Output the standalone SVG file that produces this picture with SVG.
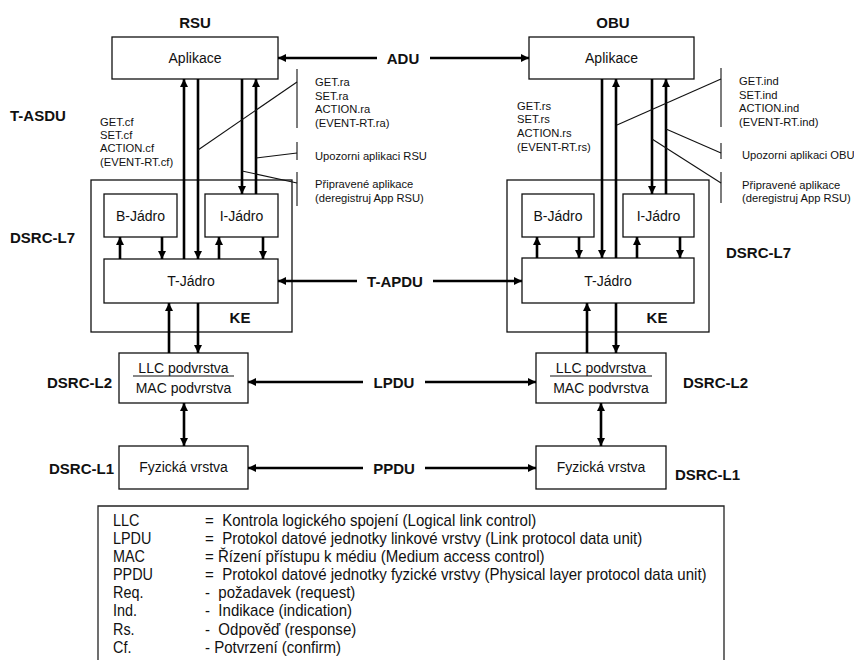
<svg xmlns="http://www.w3.org/2000/svg" width="854" height="660" viewBox="0 0 854 660">
<defs>
<marker id="ah" viewBox="0 0 10 10" refX="10" refY="5" markerWidth="9" markerHeight="8" markerUnits="userSpaceOnUse" orient="auto-start-reverse"><path d="M0,0 L10,5 L0,10 z" fill="#000"/></marker>
<style>
.box{fill:#fff;stroke:#111;stroke-width:1.3}
.lbl{font-family:"Liberation Sans",Arial,sans-serif;font-size:14px;fill:#111;text-anchor:middle;dominant-baseline:central}
.bold{font-family:"Liberation Sans",Arial,sans-serif;font-size:15px;font-weight:bold;fill:#111;dominant-baseline:central}
.sm{font-family:"Liberation Sans",Arial,sans-serif;font-size:11.2px;fill:#111}
.lg{font-family:"Liberation Sans",Arial,sans-serif;font-size:16px;fill:#111}
.thick{stroke:#000;stroke-width:2.6;fill:none}
.ar{marker-end:url(#ah)}
.thin{stroke:#111;stroke-width:1.1;fill:none}
</style>
</defs>
<rect width="854" height="660" fill="#fff"/>

<!-- titles and side labels -->
<text class="bold" x="195" y="22" text-anchor="middle">RSU</text>
<text class="bold" x="613" y="22" text-anchor="middle">OBU</text>
<text class="bold" x="10" y="115">T-ASDU</text>
<text class="bold" x="10" y="237">DSRC-L7</text>
<text class="bold" x="726" y="252">DSRC-L7</text>
<text class="bold" x="47" y="382">DSRC-L2</text>
<text class="bold" x="49" y="468">DSRC-L1</text>
<text class="bold" x="683" y="382">DSRC-L2</text>
<text class="bold" x="675" y="474">DSRC-L1</text>

<!-- RSU nodes -->
<g id="rsu-aplikace"><rect class="box" x="112" y="37" width="166" height="42"/><text class="lbl" x="195" y="58">Aplikace</text></g>
<g id="rsu-ke"><rect class="box" x="91" y="180" width="201" height="152"/><text class="bold" x="240" y="317" text-anchor="middle">KE</text></g>
<g id="rsu-bjadro"><rect class="box" x="104" y="194" width="73" height="43"/><text class="lbl" x="140.5" y="216">B-Jádro</text></g>
<g id="rsu-ijadro"><rect class="box" x="205" y="194" width="73" height="43"/><text class="lbl" x="241.5" y="216">I-Jádro</text></g>
<g id="rsu-tjadro"><rect class="box" x="104" y="259" width="174" height="44"/><text class="lbl" x="191" y="281">T-Jádro</text></g>
<g id="rsu-llc"><rect class="box" x="119" y="353" width="129" height="50"/><text class="lbl" x="183.5" y="368">LLC podvrstva</text><line x1="133" y1="376" x2="234" y2="376" stroke="#111" stroke-width="1.2"/><text class="lbl" x="183.5" y="388">MAC podvrstva</text></g>
<g id="rsu-fyz"><rect class="box" x="119" y="446" width="129" height="43"/><text class="lbl" x="183.5" y="467">Fyzická vrstva</text></g>

<!-- OBU nodes -->
<g id="obu-aplikace"><rect class="box" x="529" y="37" width="165" height="42"/><text class="lbl" x="611.5" y="58">Aplikace</text></g>
<g id="obu-ke"><rect class="box" x="507" y="180" width="202" height="152"/><text class="bold" x="657" y="317" text-anchor="middle">KE</text></g>
<g id="obu-bjadro"><rect class="box" x="522" y="194" width="72" height="43"/><text class="lbl" x="558" y="216">B-Jádro</text></g>
<g id="obu-ijadro"><rect class="box" x="623" y="194" width="71" height="43"/><text class="lbl" x="658.5" y="216">I-Jádro</text></g>
<g id="obu-tjadro"><rect class="box" x="522" y="258" width="172" height="45"/><text class="lbl" x="608" y="281">T-Jádro</text></g>
<g id="obu-llc"><rect class="box" x="536" y="353" width="130" height="50"/><text class="lbl" x="601" y="368">LLC podvrstva</text><line x1="550" y1="376" x2="652" y2="376" stroke="#111" stroke-width="1.2"/><text class="lbl" x="601" y="388">MAC podvrstva</text></g>
<g id="obu-fyz"><rect class="box" x="536" y="446" width="130" height="43"/><text class="lbl" x="601" y="467">Fyzická vrstva</text></g>

<!-- connectors -->
<g id="connectors">
<line class="thick ar" x1="377" y1="58" x2="278" y2="58"/>
<line class="thick ar" x1="430" y1="58" x2="529" y2="58"/>
<line class="thick ar" x1="357" y1="281" x2="278" y2="281"/>
<line class="thick ar" x1="433" y1="281" x2="522" y2="281"/>
<line class="thick ar" x1="363" y1="382" x2="248" y2="382"/>
<line class="thick ar" x1="425" y1="382" x2="536" y2="382"/>
<line class="thick ar" x1="363" y1="468" x2="248" y2="468"/>
<line class="thick ar" x1="425" y1="468" x2="536" y2="468"/>
<line class="thick ar" x1="184" y1="259" x2="184" y2="79"/>
<line class="thick ar" x1="198" y1="79" x2="198" y2="259"/>
<line class="thick ar" x1="242" y1="79" x2="242" y2="194"/>
<line class="thick ar" x1="256" y1="194" x2="256" y2="79"/>
<line class="thick ar" x1="120" y1="259" x2="120" y2="237"/>
<line class="thick ar" x1="162" y1="237" x2="162" y2="259"/>
<line class="thick ar" x1="219" y1="259" x2="219" y2="237"/>
<line class="thick ar" x1="263" y1="237" x2="263" y2="259"/>
<line class="thick ar" x1="169" y1="353" x2="169" y2="303"/>
<line class="thick ar" x1="198" y1="303" x2="198" y2="353"/>
<line class="thick ar" x1="184" y1="403" x2="184" y2="446" marker-start="url(#ah)"/>
<line class="thick ar" x1="602" y1="79" x2="602" y2="258"/>
<line class="thick ar" x1="616" y1="258" x2="616" y2="79"/>
<line class="thick ar" x1="652" y1="79" x2="652" y2="194"/>
<line class="thick ar" x1="666" y1="194" x2="666" y2="79"/>
<line class="thick ar" x1="537" y1="258" x2="537" y2="237"/>
<line class="thick ar" x1="579" y1="237" x2="579" y2="258"/>
<line class="thick ar" x1="637" y1="258" x2="637" y2="237"/>
<line class="thick ar" x1="680" y1="237" x2="680" y2="258"/>
<line class="thick ar" x1="587" y1="353" x2="587" y2="303"/>
<line class="thick ar" x1="616" y1="303" x2="616" y2="353"/>
<line class="thick ar" x1="601" y1="403" x2="601" y2="446" marker-start="url(#ah)"/>
<line class="thin" x1="297" y1="69" x2="297" y2="128"/>
<line class="thin" x1="198" y1="150" x2="297" y2="82"/>
<line class="thin" x1="297" y1="142" x2="297" y2="160"/>
<line class="thin" x1="256" y1="158" x2="297" y2="153"/>
<line class="thin" x1="297" y1="172" x2="297" y2="206"/>
<line class="thin" x1="242" y1="171" x2="297" y2="183"/>
<line class="thin" x1="721" y1="68" x2="721" y2="127"/>
<line class="thin" x1="617" y1="125" x2="721" y2="79"/>
<line class="thin" x1="721" y1="143" x2="721" y2="159"/>
<line class="thin" x1="666" y1="129" x2="721" y2="153"/>
<line class="thin" x1="721" y1="172" x2="721" y2="203"/>
<line class="thin" x1="652" y1="139" x2="721" y2="183"/>
</g>

<!-- link labels -->
<text class="bold" x="403" y="58" text-anchor="middle">ADU</text>
<text class="bold" x="395" y="281" text-anchor="middle">T-APDU</text>
<text class="bold" x="394" y="382" text-anchor="middle">LPDU</text>
<text class="bold" x="394" y="468" text-anchor="middle">PPDU</text>

<!-- primitive labels -->
<g class="sm">
<text x="100" y="126">GET.cf</text>
<text x="100" y="139">SET.cf</text>
<text x="100" y="152">ACTION.cf</text>
<text x="100" y="166">(EVENT-RT.cf)</text>
<text x="315" y="86">GET.ra</text>
<text x="315" y="100">SET.ra</text>
<text x="315" y="113">ACTION.ra</text>
<text x="315" y="127">(EVENT-RT.ra)</text>
<text x="315" y="160">Upozorni aplikaci RSU</text>
<text x="315" y="188">Připravené aplikace</text>
<text x="315" y="202">(deregistruj App RSU)</text>
<text x="517" y="110">GET.rs</text>
<text x="517" y="123">SET.rs</text>
<text x="517" y="137">ACTION.rs</text>
<text x="517" y="151">(EVENT-RT.rs)</text>
<text x="739" y="85">GET.ind</text>
<text x="739" y="99">SET.ind</text>
<text x="739" y="112">ACTION.ind</text>
<text x="739" y="126">(EVENT-RT.ind)</text>
<text x="742" y="159">Upozorni aplikaci OBU</text>
<text x="742" y="189">Připravené aplikace</text>
<text x="742" y="202">(deregistruj App RSU)</text>
</g>

<!-- legend -->
<g id="legend">
<path d="M98,662 L98,506 L724,506 L724,662" fill="none" stroke="#222" stroke-width="1.3"/>
<g class="lg" transform="translate(113,0) scale(0.9,1)">
<text x="0" y="526">LLC</text>
<text x="0" y="544">LPDU</text>
<text x="0" y="562">MAC</text>
<text x="0" y="580">PPDU</text>
<text x="0" y="598">Req.</text>
<text x="0" y="616">Ind.</text>
<text x="0" y="635">Rs.</text>
<text x="0" y="653">Cf.</text>
</g>
<g class="lg" transform="translate(205,0) scale(0.94,1)">
<text x="0" y="526">=&#160; Kontrola logického spojení (Logical link control)</text>
<text x="0" y="544">=&#160; Protokol datové jednotky linkové vrstvy (Link protocol data unit)</text>
<text x="0" y="562">= Řízení přístupu k médiu (Medium access control)</text>
<text x="0" y="580">=&#160; Protokol datové jednotky fyzické vrstvy (Physical layer protocol data unit)</text>
<text x="0" y="598">-&#160; požadavek (request)</text>
<text x="0" y="616">-&#160; Indikace (indication)</text>
<text x="0" y="635">-&#160; Odpověď (response)</text>
<text x="0" y="653">- Potvrzení (confirm)</text>
</g>
</g>
</svg>
